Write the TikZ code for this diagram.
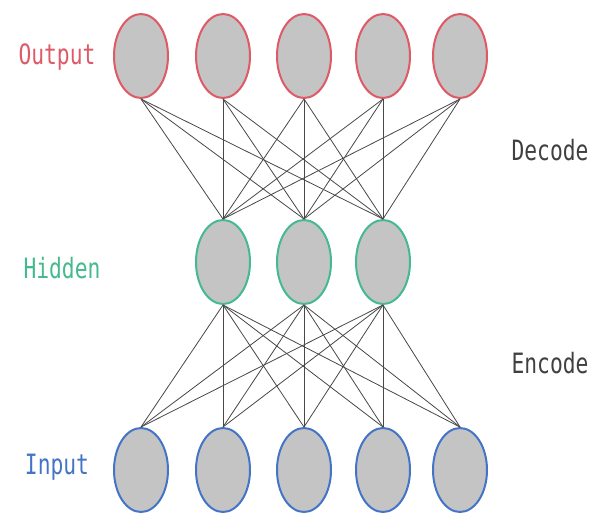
\documentclass[tikz,border=0pt]{standalone}
\usepackage{fontspec}
\setmonofont{DejaVu Sans Mono}
\usetikzlibrary{shapes.geometric}
\definecolor{outred}{HTML}{DD5A66}
\definecolor{hidgreen}{HTML}{45BA8E}
\definecolor{inblue}{HTML}{4474C8}
\definecolor{nodegray}{HTML}{C4C4C4}
\definecolor{linegray}{HTML}{484848}
\begin{document}
\begin{tikzpicture}[x=1pt,y=-1pt,
  neuron/.style={ellipse,draw,line width=2pt,fill=nodegray,minimum width=54pt,minimum height=84pt,inner sep=0pt},
  outn/.style={neuron,draw=outred},
  hidn/.style={neuron,draw=hidgreen},
  inn/.style={neuron,draw=inblue},
  conn/.style={draw=linegray,line width=0.8pt},
  lbl/.style={font=\ttfamily\fontsize{28}{28}\selectfont,inner sep=0pt}]
\useasboundingbox (0,0) rectangle (597,517);
\path[fill=white] (0,0) rectangle (597,517);
\foreach \i/\x in {1/141,2/223,3/304,4/383,5/460}{
  \node[outn] (o\i) at (\x,56) {};
  \node[inn] (i\i) at (\x,470) {};
}
\foreach \i/\x in {1/223,2/304,3/383}{
  \node[hidn] (h\i) at (\x,262) {};
}
\foreach \a in {1,...,5}{
  \foreach \b in {1,2,3}{
    \draw[conn] (o\a.south) -- (h\b.north);
    \draw[conn] (h\b.south) -- (i\a.north);
  }
}
\node[lbl,text=outred,anchor=base] (tout) at (57,64) {\scalebox{0.76}[1]{Output}};
\node[lbl,text=hidgreen,anchor=base] (thid) at (62,278) {\scalebox{0.76}[1]{Hidden}};
\node[lbl,text=inblue,anchor=base] (tin) at (57,474) {\scalebox{0.76}[1]{Input}};
\node[lbl,text=black!75,anchor=base] (tdec) at (550,160) {\scalebox{0.76}[1]{Decode}};
\node[lbl,text=black!75,anchor=base] (tenc) at (550,373) {\scalebox{0.76}[1]{Encode}};
\end{tikzpicture}
\end{document}
